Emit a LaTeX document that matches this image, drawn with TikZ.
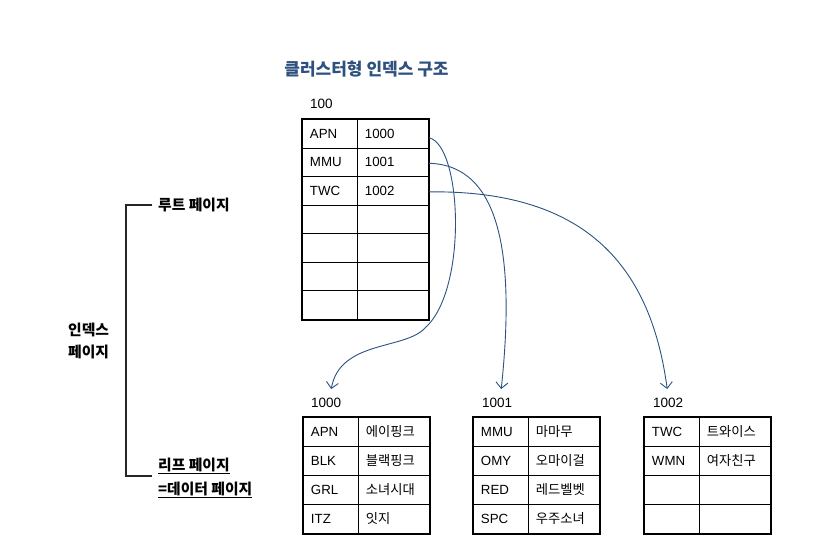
\documentclass[tikz,border=0pt]{standalone}
\usepackage{fontspec}
\setmainfont{Liberation Sans}
\newfontfamily\kr{Noto Sans CJK KR}
\usetikzlibrary{arrows.meta}
\definecolor{tblue}{HTML}{2E5180}
\definecolor{cblue}{HTML}{2C5282}
\newcommand{\latf}{\fontsize{13.3}{15}\selectfont}
\newcommand{\krt}{\kr\fontsize{13.3}{15}\selectfont}
\newcommand{\numf}{\fontsize{13.5}{15}\selectfont}
\newcommand{\krlab}{\kr\bfseries\fontsize{14.8}{22}\selectfont}
\tikzset{
  cellbase/.style={draw, line width=0.9pt, anchor=north west, inner xsep=7.5pt, inner ysep=0pt, align=left},
  kcell/.style={cellbase, minimum width=55pt, text width=40pt, minimum height=28.57pt, font=\latf},
  vcell/.style={cellbase, minimum width=71pt, text width=56pt, minimum height=28.57pt, font=\latf},
  lkcell/.style={cellbase, minimum width=55pt, text width=40pt, minimum height=29pt, font=\latf},
  lvcell/.style={cellbase, minimum width=71pt, text width=56pt, minimum height=29pt, font=\krt},
  outer/.style={draw, line width=1.7pt},
  numlabel/.style={anchor=west, inner sep=0pt, font=\numf},
  sidelabel/.style={anchor=west, inner sep=0pt, font=\krlab, align=left},
  bracket/.style={draw, line width=1.1pt, black!85},
  link/.style={draw=cblue, line width=0.9pt, -{Straight Barb[length=6pt,width=12pt,line width=0.9pt]}},
}
\begin{document}
\begin{tikzpicture}[x=1pt,y=-1pt]
\fill[white] (0,0) rectangle (836,546);
\useasboundingbox (0,0) rectangle (836,546);

% title
\node[font=\kr\bfseries\fontsize{17}{20}\selectfont, text=tblue] (title) at (366.5,69) {클러스터형 인덱스 구조};

% root page
\node[numlabel] (l100) at (310,104) {100};
\node[kcell] (r1k) at (302,119) {APN};
\node[vcell] (r1v) at (357,119) {1000};
\node[kcell] (r2k) at (302,147.57) {MMU};
\node[vcell] (r2v) at (357,147.57) {1001};
\node[kcell] (r3k) at (302,176.14) {TWC};
\node[vcell] (r3v) at (357,176.14) {1002};
\foreach \i in {4,...,7} {
  \node[kcell] (r\i k) at (302,{119+(\i-1)*28.57}) {};
  \node[vcell] (r\i v) at (357,{119+(\i-1)*28.57}) {};
}
\draw[outer] (r1k.north west) rectangle (r7v.south east);

% leaf 1000
\node[numlabel] (l1000) at (311,403) {1000};
\node[lkcell] (a1k) at (303,417) {APN};  \node[lvcell] (a1v) at (358,417) {에이핑크};
\node[lkcell] (a2k) at (303,446) {BLK};  \node[lvcell] (a2v) at (358,446) {블랙핑크};
\node[lkcell] (a3k) at (303,475) {GRL};  \node[lvcell] (a3v) at (358,475) {소녀시대};
\node[lkcell] (a4k) at (303,504) {ITZ};  \node[lvcell] (a4v) at (358,504) {잇지};
\draw[outer] (a1k.north west) rectangle (a4v.south east);

% leaf 1001
\node[numlabel] (l1001) at (482,403) {1001};
\node[lkcell] (b1k) at (473,417) {MMU};  \node[lvcell] (b1v) at (528,417) {마마무};
\node[lkcell] (b2k) at (473,446) {OMY};  \node[lvcell] (b2v) at (528,446) {오마이걸};
\node[lkcell] (b3k) at (473,475) {RED};  \node[lvcell] (b3v) at (528,475) {레드벨벳};
\node[lkcell] (b4k) at (473,504) {SPC};  \node[lvcell] (b4v) at (528,504) {우주소녀};
\draw[outer] (b1k.north west) rectangle (b4v.south east);

% leaf 1002
\node[numlabel] (l1002) at (653,403) {1002};
\node[lkcell] (c1k) at (644,417) {TWC};  \node[lvcell] (c1v) at (699,417) {트와이스};
\node[lkcell] (c2k) at (644,446) {WMN};  \node[lvcell] (c2v) at (699,446) {여자친구};
\node[lkcell] (c3k) at (644,475) {};     \node[lvcell] (c3v) at (699,475) {};
\node[lkcell] (c4k) at (644,504) {};     \node[lvcell] (c4v) at (699,504) {};
\draw[outer] (c1k.north west) rectangle (c4v.south east);

% connectors
\draw[link] ([yshift=-4pt]r1v.east) .. controls (462,145) and (468,290) .. (425,328)
  .. controls (405,350) and (340,340) .. ([shift={(5pt,9pt)}]l1000.north);
\draw[link] ([yshift=-1pt]r2v.east) .. controls (502,165) and (515,260) .. ([shift={(4pt,9pt)}]l1001.north);
\draw[link] ([yshift=-1pt]r3v.east) .. controls (580,190) and (650,260) .. ([shift={(-1pt,9pt)}]l1002.north);

% side labels and bracket
\node[sidelabel] (lroot) at (158,205) {루트 페이지};
\node[sidelabel] (lidx) at (68,341) {인덱스\\페이지};
\node[sidelabel] (lleaf1) at (158,466) {\underline{리프 페이지}};
\node[sidelabel] (lleaf2) at (158,490) {\underline{=데이터 페이지}};
\coordinate (bbot) at (152,476);
\draw[bracket] ([xshift=-6pt]lroot.west) -| (126,476) -- (bbot);
\end{tikzpicture}
\end{document}
